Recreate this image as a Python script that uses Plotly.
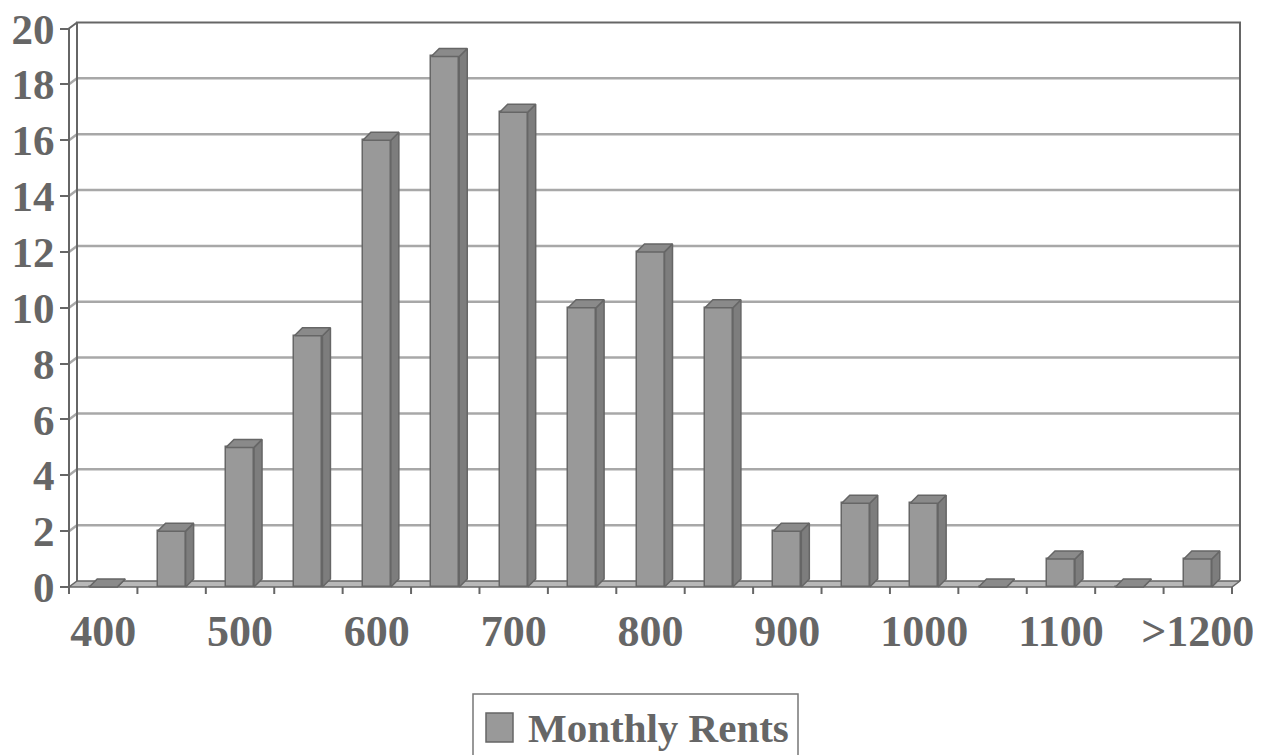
import plotly.graph_objects as go

# ---------------- data ----------------
categories = ["400", "450", "500", "550", "600", "650", "700", "750", "800",
              "850", "900", "950", "1000", "1050", "1100", "1150", ">1200"]
counts = [0, 2, 5, 9, 16, 19, 17, 10, 12, 10, 2, 3, 3, 0, 1, 0, 1]
y_ticks = [0, 2, 4, 6, 8, 10, 12, 14, 16, 18, 20]
series_name = "Monthly Rents"
label_step = 2

# ---------------- geometry / style ----------------
W, H = 1261, 755
OFF = 8  # page body margin compensation
n = len(categories)
FRONT_L, FRONT_R = 69 - OFF, 1232 - OFF
ZERO_PX, TOP_PX = 587 - OFF, 28.5 - OFF
YMAX = max(y_ticks)
PX_X = (FRONT_R - FRONT_L) / n
PX_Y = (ZERO_PX - TOP_PX) / YMAX
PLOT_L, PLOT_R, PLOT_T, PLOT_B = FRONT_L, 1246 - OFF, 17 - OFF, 591 - OFF
xr = [-0.5, -0.5 + (PLOT_R - PLOT_L) / PX_X]
yr = [-(PLOT_B - ZERO_PX) / PX_Y, (ZERO_PX - PLOT_T) / PX_Y]
WALL_DX, WALL_DY = 8 / PX_X, 6 / PX_Y
BAR_DX, BAR_DY = 8 / PX_X, 8 / PX_Y
BAR_W = 28 / PX_X

TXT = "#666666"
AX = "#666666"
GRID = "#a8a8a8"
FRONT = "#999999"
SIDE = "#7d7d7d"
TOPC = "#8a8a8a"
FLOOR = "#b8b8b8"
FONT = "Liberation Serif"


def fx(x):
    return (x - xr[0]) / (xr[1] - xr[0])


def fy(y):
    return (y - yr[0]) / (yr[1] - yr[0])


def pxx(p):
    return (p - OFF - PLOT_L) / (PLOT_R - PLOT_L)


def pxy(p):
    return (PLOT_B - (p - OFF)) / (PLOT_B - PLOT_T)


fig = go.Figure()

# floor
fx0, fx1 = -0.5, n - 0.5
fig.add_trace(go.Scatter(
    x=[fx0, fx1, fx1 + WALL_DX, fx0 + WALL_DX, fx0],
    y=[0, 0, WALL_DY, WALL_DY, 0],
    fill="toself", fillcolor=FLOOR, mode="lines",
    line=dict(color=AX, width=1.5), hoverinfo="skip", showlegend=False, zorder=0))

# bar fronts
xs = list(range(n))
fig.add_trace(go.Bar(
    x=xs, y=counts, width=BAR_W, name=series_name,
    marker=dict(color=FRONT, line=dict(color=AX, width=1.5)),
    showlegend=False, zorder=1))

# bar side faces and top faces (derived from the data values)
sx, sy, tx, ty = [], [], [], []
for i, v in zip(xs, counts):
    r = i + BAR_W / 2
    l = i - BAR_W / 2
    sx += [r, r + BAR_DX, r + BAR_DX, r, r, None]
    sy += [0, BAR_DY, v + BAR_DY, v, 0, None]
    tx += [l, r, r + BAR_DX, l + BAR_DX, l, None]
    ty += [v, v, v + BAR_DY, v + BAR_DY, v, None]
fig.add_trace(go.Scatter(x=sx, y=sy, fill="toself", fillcolor=SIDE, mode="lines",
                         line=dict(color=AX, width=1.5), hoverinfo="skip",
                         showlegend=False, zorder=2))
fig.add_trace(go.Scatter(x=tx, y=ty, fill="toself", fillcolor=TOPC, mode="lines",
                         line=dict(color=AX, width=1.5), hoverinfo="skip",
                         showlegend=False, zorder=2))

shapes = []
# back-wall gridlines and side-wall stubs
for v in y_ticks[1:-1]:
    shapes.append(dict(type="line", xref="paper", yref="paper", layer="below",
                       x0=fx(fx0 + WALL_DX), x1=fx(fx1 + WALL_DX),
                       y0=fy(v + WALL_DY), y1=fy(v + WALL_DY),
                       line=dict(color=GRID, width=2.5)))
    shapes.append(dict(type="line", xref="paper", yref="paper", layer="below",
                       x0=fx(fx0), x1=fx(fx0 + WALL_DX),
                       y0=fy(v), y1=fy(v + WALL_DY),
                       line=dict(color=GRID, width=2.5)))
# back wall border
path = "M {:.5f},{:.5f} L {:.5f},{:.5f} L {:.5f},{:.5f} L {:.5f},{:.5f}".format(
    fx(fx0 + WALL_DX), fy(WALL_DY), fx(fx0 + WALL_DX), fy(YMAX + WALL_DY),
    fx(fx1 + WALL_DX), fy(YMAX + WALL_DY), fx(fx1 + WALL_DX), fy(WALL_DY))
shapes.append(dict(type="path", xref="paper", yref="paper", layer="below",
                   path=path, line=dict(color=AX, width=2)))
# front vertical axis + top diagonal
path2 = "M {:.5f},{:.5f} L {:.5f},{:.5f} L {:.5f},{:.5f}".format(
    fx(fx0), fy(0), fx(fx0), fy(YMAX), fx(fx0 + WALL_DX), fy(YMAX + WALL_DY))
shapes.append(dict(type="path", xref="paper", yref="paper", layer="above",
                   path=path2, line=dict(color=AX, width=2)))
# x tick marks at category boundaries
for k in range(n + 1):
    xb = k - 0.5
    shapes.append(dict(type="line", xref="paper", yref="paper", layer="above",
                       x0=fx(xb), x1=fx(xb), y0=fy(0), y1=fy(-7 / PX_Y),
                       line=dict(color=AX, width=2)))

# legend box
shapes.append(dict(type="rect", xref="paper", yref="paper", layer="above",
                   x0=pxx(473), x1=pxx(798), y0=pxy(694), y1=pxy(790),
                   line=dict(color="#777777", width=1.5), fillcolor="white"))
shapes.append(dict(type="rect", xref="paper", yref="paper", layer="above",
                   x0=pxx(486), x1=pxx(513), y0=pxy(713), y1=pxy(742),
                   line=dict(color=AX, width=1.5), fillcolor=FRONT))

annotations = [dict(text=series_name, xref="paper", yref="paper",
                    x=pxx(526), y=pxy(728), xanchor="left", yanchor="middle",
                    showarrow=False,
                    font=dict(family=FONT, size=41, color=TXT, weight="bold"))]

fig.update_layout(
    width=W, height=H,
    margin=dict(l=PLOT_L, r=W - PLOT_R, t=PLOT_T, b=H - PLOT_B, autoexpand=False),
    paper_bgcolor="white", plot_bgcolor="white",
    shapes=shapes, annotations=annotations, showlegend=False,
    bargap=0,
    xaxis=dict(range=xr, tickmode="array",
               tickvals=xs[::label_step], ticktext=categories[::label_step],
               ticks="", showgrid=False, zeroline=False, showline=False,
               ticklabelstandoff=10, ticklabeloverflow="allow",
               tickfont=dict(family=FONT, size=44, color=TXT, weight="bold")),
    yaxis=dict(range=yr, tickmode="array", tickvals=y_ticks,
               ticks="outside", ticklen=8, tickwidth=2, tickcolor=AX,
               showgrid=False, zeroline=False, showline=False,
               ticklabelstandoff=-3, ticklabeloverflow="allow",
               tickfont=dict(family=FONT, size=43, color=TXT, weight="bold")),
)

fig.write_html("out.html")
